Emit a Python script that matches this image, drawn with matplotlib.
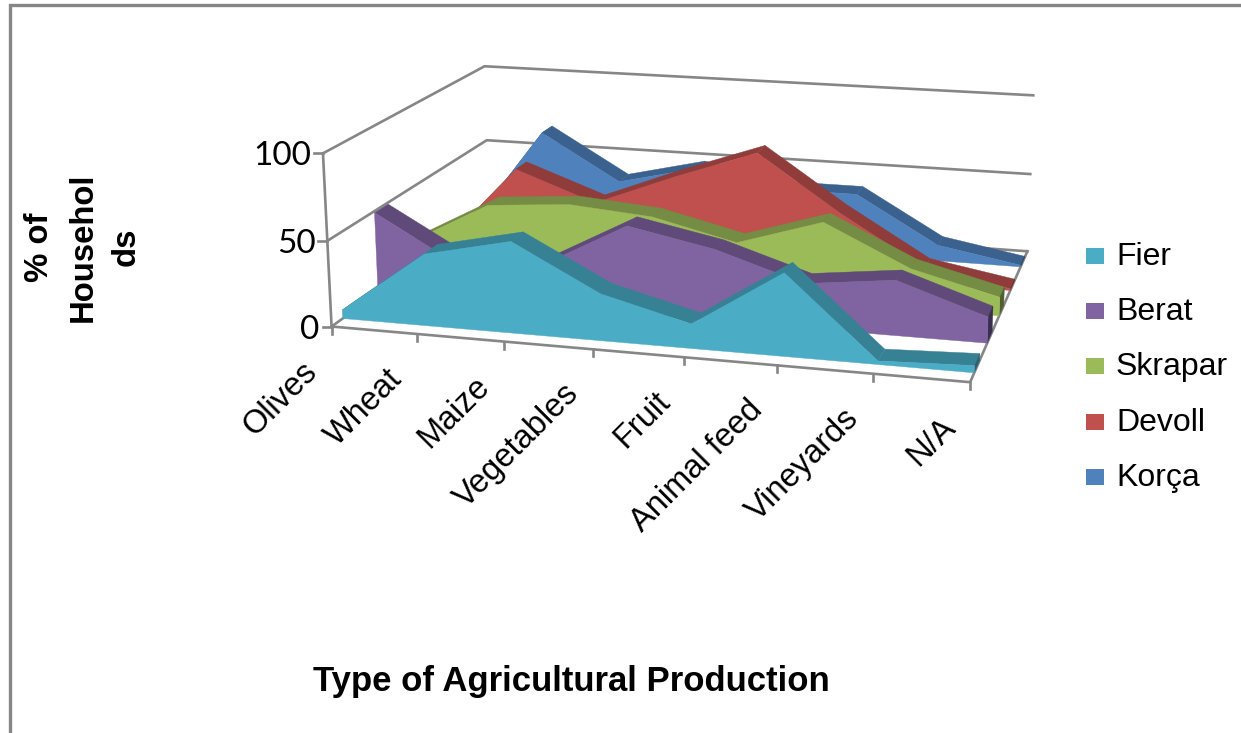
"""3D area chart of agricultural production per district, projected by hand onto pixel axes."""

import matplotlib
matplotlib.use("Agg")
import matplotlib.pyplot as plt
import numpy as np

W, H = 1241, 733
categories = ["Olives", "Wheat", "Maize", "Vegetables", "Fruit", "Animal feed", "Vineyards", "N/A"]
series_names = ["Fier", "Berat", "Skrapar", "Devoll", "Korça"]
fier = [5, 42, 53, 27, 14, 47, 2, 4]
berat = [49, 21, 25, 52, 42, 26, 32, 15]
skrapar = [17, 44, 48, 44, 32, 48, 24, 11]
devoll = [1, 54, 36, 56, 74, 40, 10, 1]
korca = [0, 66, 37, 49, 39, 39, 10, 1]
series_values = [fier, berat, skrapar, devoll, korca]

face_colors = ["#4BACC6", "#8064A2", "#9BBB59", "#C0504D", "#4F81BD"]
band_colors = ["#378195", "#5F4A7A", "#748C43", "#8F3C3A", "#3B618E"]
side_colors = ["#2A6172", "#3A2E50", "#4F602E", "#6A2C2A", "#2A466A"]
GRID = "#868686"
LABEL_FONT = "Liberation Sans"

# box corners (x, depth, z) -> where they land on the canvas
calib = [
    (0, 0, 0, 331, 326), (0, 0, .5, 328, 241), (0, 0, 1, 323, 153),
    (0, 1, 0, 489, 214), (0, 1, .5, 487, 140), (0, 1, 1, 484, 66),
    (1, 1, 0, 1028, 250), (1, 1, .5, 1029, 174), (1, 1, 1, 1034, 96),
    (1, 0, 0, 970, 383),
]


def fit_camera(points):
    rows, rhs = [], []
    for x, d, z, u, v in points:
        rows.append([x, d, z, 1, 0, 0, 0, 0, -u * x, -u * d, -u * z]); rhs.append(u)
        rows.append([0, 0, 0, 0, x, d, z, 1, -v * x, -v * d, -v * z]); rhs.append(v)
    sol = np.linalg.lstsq(np.array(rows, float), np.array(rhs, float), rcond=None)[0]
    return np.append(sol, 1).reshape(3, 4)


CAM = fit_camera(calib)


def proj(x, d, value):
    p = CAM @ np.array([x, d, value / 100, 1.0])
    return p[0] / p[2], p[1] / p[2]


def poly(ax, pts, color, z):
    xs, ys = zip(*pts)
    ax.fill(xs, ys, color=color, lw=0.3, zorder=z)


def main():
    fig = plt.figure(figsize=(W / 100, H / 100), dpi=100)
    ax = fig.add_axes([0, 0, 1, 1])
    ax.set_xlim(0, W); ax.set_ylim(H, 0); ax.axis("off")

    # outer chart frame (only left and top fall inside the crop)
    ax.plot([9.5, 9.5, W], [H, 4.5, 4.5], color=GRID, lw=2.4, solid_joinstyle="miter")

    # walls and gridlines
    for v in (0, 50, 100):
        pts = [proj(0, 0, v), proj(0, 1, v), proj(1, 1, v)]
        ax.plot(*zip(*pts), color=GRID, lw=1.9, zorder=1)
    ax.plot(*zip(proj(0, 0, 0), proj(0, 0, 100)), color=GRID, lw=1.9, zorder=1)
    ax.plot(*zip(proj(0, 0, 0), proj(1, 0, 0), proj(1, 1, 0)), color=GRID, lw=1.9, zorder=1)
    for v in (0, 50, 100):
        x, y = proj(0, 0, v)
        ax.plot([x - 9, x], [y, y], color=GRID, lw=1.9, zorder=1)
        ax.text(x - 12, y + 3, str(v), ha="right", va="center", fontsize=24, family="Lato", color="black")

    n = len(categories)
    for i, name in enumerate(categories):
        x, y = proj(i / (n - 1), 0, 0)
        ax.plot([x, x], [y, y + 7], color=GRID, lw=1.9, zorder=1)
        ax.text(x - 19, y + 40, name, ha="right", va="center", rotation=45, rotation_mode="anchor",
                fontsize=23.5, family=LABEL_FONT, color="black")

    # ribbons, back to front
    for s in range(len(series_names) - 1, -1, -1):
        vals = series_values[s]
        d0, d1 = s / 5 + 0.06, s / 5 + 0.14
        z = 10 + 3 * (4 - s)
        front = [proj(i / (n - 1), d0, vals[i]) for i in range(n)]
        back = [proj(i / (n - 1), d1, vals[i]) for i in range(n)]
        for i in range(n - 1):
            poly(ax, [front[i], front[i + 1], back[i + 1], back[i]], band_colors[s], z)
        poly(ax, [front[-1], back[-1], proj(1, d1, 0), proj(1, d0, 0)], side_colors[s], z)
        poly(ax, front + [proj(1, d0, 0), proj(0, d0, 0)], face_colors[s], z + 1)

    # legend
    for k, name in enumerate(series_names):
        yc = 256 + k * 55.2
        ax.fill([1086, 1104, 1104, 1086], [yc - 8, yc - 8, yc + 8, yc + 8], color=face_colors[k], lw=0)
        ax.text(1116, yc + 1, name, ha="left", va="center", fontsize=23, family=LABEL_FONT, color="black")

    ax.text(571, 682, "Type of Agricultural Production", ha="center", va="center", fontsize=25,
            fontweight="bold", family=LABEL_FONT)
    ax.text(83, 247, "% of\nHousehol\nds", ha="center", va="center", rotation=90, multialignment="center",
            fontsize=23.7, fontweight="bold", family=LABEL_FONT, linespacing=1.5)

    fig.savefig("out.png", dpi=100)
    plt.close(fig)


if __name__ == "__main__":
    main()
